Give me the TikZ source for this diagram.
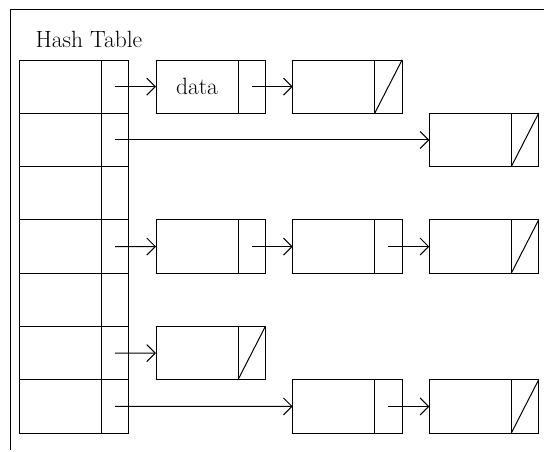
\documentclass[tikz,border=0pt]{standalone}
\usetikzlibrary{arrows.meta}
\begin{document}
\begin{tikzpicture}[x=1pt,y=-1pt,line width=1pt,
  label font/.style={font=\fontsize{23.5}{23.5}\selectfont},
  keycell/.style={draw,anchor=north west,minimum width=82pt,minimum height=53.3pt,inner sep=0pt,outer sep=0pt,label font},
  ptrcell/.style={draw,anchor=north west,minimum width=27.3pt,minimum height=53.3pt,inner sep=0pt,outer sep=0pt},
  link/.style={-{Straight Barb[length=8.5pt,width=17pt]}},
  nil/.style={line cap=round}]
\useasboundingbox (0,0) rectangle (544,451);

% frame
\draw (10.3,450) -- (10.3,9.3) -- (544,9.3);

% title
\node[anchor=base west,inner sep=0pt,label font] (title) at (35,47) {Hash Table};

% hash table buckets
\foreach \i in {0,...,6}{
  \node[keycell] (k\i) at (19.5,{60+53.3*\i}) {};
  \node[ptrcell] (t\i) at (k\i.north east) {};
}

% list nodes: d<row><col> holds data, p<row><col> holds the next pointer
\node[keycell] (d01) at (156,60) {data};
\node[ptrcell] (p01) at (d01.north east) {};
\node[keycell] (d02) at (292.7,60) {};
\node[ptrcell] (p02) at (d02.north east) {};

\node[keycell] (d13) at (429.3,113.3) {};
\node[ptrcell] (p13) at (d13.north east) {};

\node[keycell] (d31) at (156,219.9) {};
\node[ptrcell] (p31) at (d31.north east) {};
\node[keycell] (d32) at (292.7,219.9) {};
\node[ptrcell] (p32) at (d32.north east) {};
\node[keycell] (d33) at (429.3,219.9) {};
\node[ptrcell] (p33) at (d33.north east) {};

\node[keycell] (d51) at (156,326.5) {};
\node[ptrcell] (p51) at (d51.north east) {};

\node[keycell] (d62) at (292.7,379.8) {};
\node[ptrcell] (p62) at (d62.north east) {};
\node[keycell] (d63) at (429.3,379.8) {};
\node[ptrcell] (p63) at (d63.north east) {};

% null pointers
\foreach \n in {p02,p13,p33,p51,p63}
  \draw[nil] (\n.south west) -- (\n.north east);

% links
\draw[link] (t0.center) -- (d01.west);
\draw[link] (p01.center) -- (d02.west);
\draw[link] (t1.center) -- (d13.west);
\draw[link] (t3.center) -- (d31.west);
\draw[link] (p31.center) -- (d32.west);
\draw[link] (p32.center) -- (d33.west);
\draw[link] (t5.center) -- (d51.west);
\draw[link] (t6.center) -- (d62.west);
\draw[link] (p62.center) -- (d63.west);
\end{tikzpicture}
\end{document}
